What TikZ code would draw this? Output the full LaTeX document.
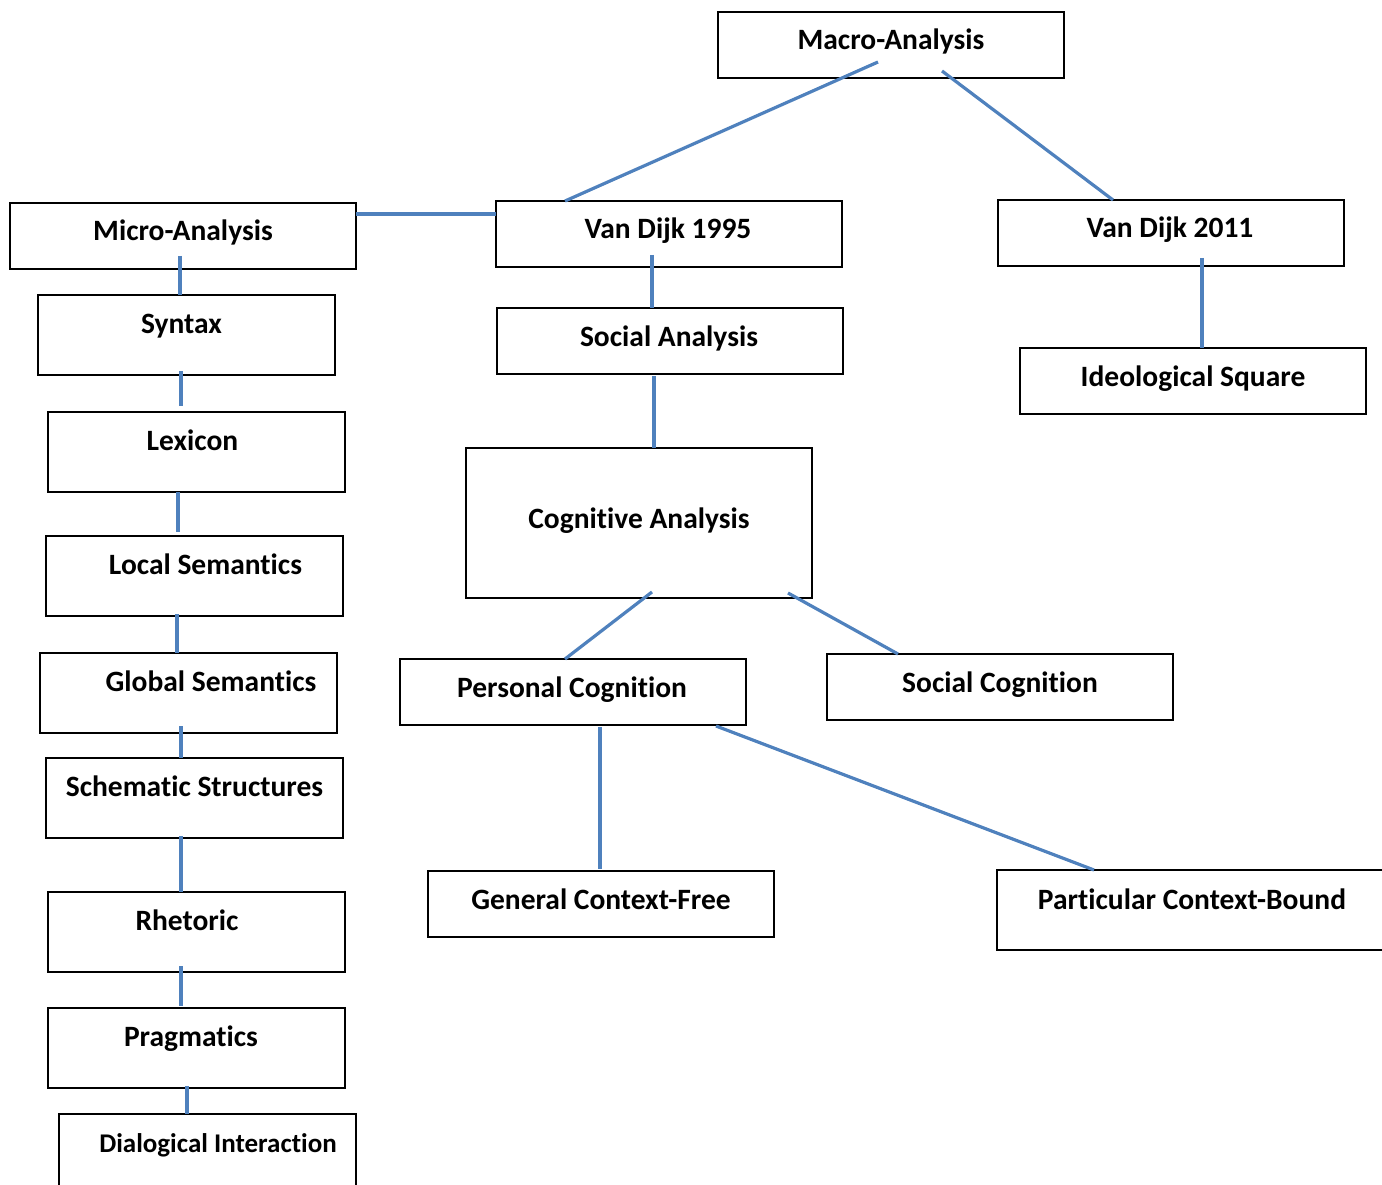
\documentclass[tikz,border=0pt]{standalone}
\usepackage{fontspec}
\setmainfont{Carlito}[Ligatures=NoCommon]
\usepackage{tikz}
\definecolor{linkblue}{RGB}{79,129,189}

\begin{document}
\begin{tikzpicture}[x=1pt, y=-1pt,
		box/.style ={ rectangle, draw=black, line width=1.2pt, fill=white, inner sep=0pt, outer sep=0pt,
			anchor=north west, font=\fontsize{29.5}{34}\selectfont\bfseries, text=black,
			text height=38pt, text depth=28pt},
		widebox/.style ={ box, minimum width=346pt},
		tallbox/.style ={ box, minimum width=297pt, text depth=42pt},
		link/.style ={ draw=linkblue, line width=3.2pt}]
		\useasboundingbox (0,0) rectangle (1382,1185);
		\node[widebox] (macro) at (718,12) {Macro-Analysis};
		\node[widebox] (micro) at (10,203) {Micro-Analysis};
		\node[widebox] (vd95) at (496,201) {\hspace*{-2pt}Van Dijk 1995};
		\node[widebox] (vd11) at (998,200) {\hspace*{-2pt}Van Dijk 2011};
		\node[tallbox] (syntax) at (38,295) {\hspace*{-10pt}Syntax};
		\node[tallbox] (lexicon) at (48,412) {\hspace*{-8pt}Lexicon};
		\node[tallbox] (local) at (46,536) {\hspace*{22pt}Local Semantics};
		\node[tallbox] (global) at (40,653) {\hspace*{45pt}Global Semantics};
		\node[tallbox] (schem) at (46,758) {Schematic Structures};
		\node[tallbox] (rhet) at (48,892) {\hspace*{-19pt}Rhetoric};
		\node[tallbox] (prag) at (48,1008) {\hspace*{-11pt}Pragmatics};
		\node[tallbox, font=\fontsize{27}{32}\selectfont\bfseries] (dial) at (59,1114) {\hspace*{21pt}Dialogical Interaction};
		\node[widebox] (social) at (497,308) {\hspace*{-2pt}Social Analysis};
		\node[widebox] (ideo) at (1020,348) {Ideological Square};
		\node[widebox, text height=80pt, text depth=70pt] (cog) at (466,448) {Cognitive Analysis};
		\node[widebox] (pers) at (400,659) {\hspace*{-2pt}Personal Cognition};
		\node[widebox] (soccog) at (827,654) {Social Cognition};
		\node[widebox] (gen) at (428,871) {General Context-Free};
		\node[widebox, minimum width=390pt, text height=39pt, text depth=41pt] (part) at (997,870) {Particular Context-Bound};
		\path[link] ([xshift=160pt,yshift=16pt]macro.south west) -- ([xshift=69pt]vd95.north west);
		\path[link] ([xshift=224pt,yshift=7pt]macro.south west) -- ([xshift=115pt]vd11.north west);
		\path[link] ([yshift=-11pt]micro.north east) -- ([yshift=-13pt]vd95.north west);
		\path[link] ([xshift=170pt,yshift=13pt]micro.south west) -- ([xshift=142pt]syntax.north west);
		\path[link] ([xshift=143pt,yshift=4pt]syntax.south west) -- ([xshift=133pt,yshift=6pt]lexicon.north west);
		\path[link] ([xshift=130pt]lexicon.south west) -- ([xshift=132pt,yshift=4pt]local.north west);
		\path[link] ([xshift=131pt,yshift=2pt]local.south west) -- ([xshift=137pt]global.north west);
		\path[link] ([xshift=141pt,yshift=7pt]global.south west) -- ([xshift=135pt]schem.north west);
		\path[link] ([xshift=135pt,yshift=2pt]schem.south west) -- ([xshift=133pt]rhet.north west);
		\path[link] ([xshift=133pt,yshift=6pt]rhet.south west) -- ([xshift=133pt,yshift=2pt]prag.north west);
		\path[link] ([xshift=139pt,yshift=2pt]prag.south west) -- ([xshift=128pt]dial.north west);
		\path[link] ([xshift=156pt,yshift=12pt]vd95.south west) -- ([xshift=155pt]social.north west);
		\path[link] ([xshift=157pt,yshift=-2pt]social.south west) -- ([xshift=188pt]cog.north west);
		\path[link] ([xshift=204pt,yshift=8pt]vd11.south west) -- ([xshift=182pt]ideo.north west);
		\path[link] ([xshift=186pt,yshift=6pt]cog.south west) -- ([xshift=165pt]pers.north west);
		\path[link] ([xshift=322pt,yshift=5pt]cog.south west) -- ([xshift=71pt]soccog.north west);
		\path[link] ([xshift=200pt,yshift=-2pt]pers.south west) -- ([xshift=172pt,yshift=2pt]gen.north west);
		\path[link] ([xshift=316pt,yshift=-1pt]pers.south west) -- ([xshift=97pt]part.north west);
\end{tikzpicture}
\end{document}
